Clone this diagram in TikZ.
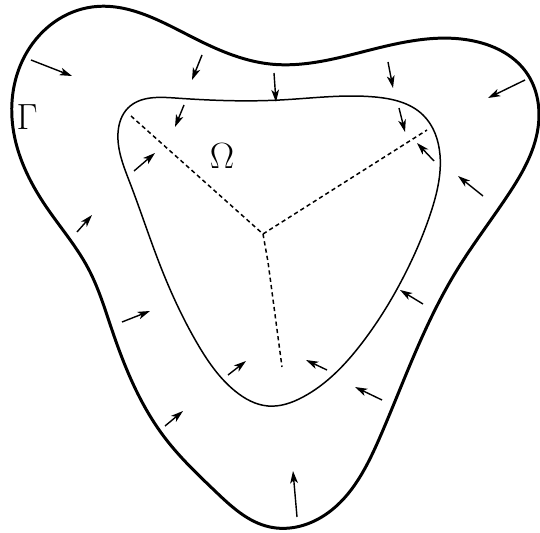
\documentclass[tikz,border=0pt]{standalone}
\usepackage{amsmath,amssymb}
\usepackage{tikz}
\usetikzlibrary{arrows.meta,hobby}

\begin{document}
\begin{tikzpicture}[x=0.02cm, y=-0.02cm,
    outerline/.style={line width=1.7pt, line join=round},
    innerline/.style={line width=0.85pt},
    cutline/.style={line width=0.85pt, dash pattern=on 2.4pt off 1.8pt},
    flow/.style={line width=0.8pt, -{Stealth[length=7pt, width=4.4pt, inset=1.9pt]}},
    every node/.style={font=\fontsize{20}{22}\selectfont}]
        \useasboundingbox (0,0) rectangle (540,533);

        % Gamma: outer boundary
        \draw[outerline, use Hobby shortcut, closed=true]
          (92,7) .. (190,36) .. (270,64) .. (370,50) .. (478,42)
          .. (526,72) .. (538,128) .. (508,195) .. (457,270)
          .. (423,335) .. (380,437) .. (320,518) .. (270,527)
          .. (215,491) .. (165,438) .. (112,330) .. (88,268)
          .. (45,205) .. (13,128) .. (27,52);

        % Omega: inner region
        \draw[innerline, use Hobby shortcut, closed=true]
          (128,108) .. (175,98) .. (280,100) .. (375,97) .. (423,115)
          .. (440,155) .. (431,212) .. (407,270) .. (362,343)
          .. (303,397) .. (268,406) .. (235,391) .. (197,343)
          .. (160,265) .. (130,183) .. (118,133);

        % skeleton of Omega
        \coordinate (joint) at (263,234);
        \draw[cutline] (131,116) -- (joint) -- (427,130);
        \draw[cutline] (joint) -- (268,262) -- (282,367);

        % inward arrows
        \foreach \xa/\ya/\xb/\yb in {
            31/60/72/76, 202/55/192/80, 184/105/175/127, 134/171/155/153,
            77/232/92/215, 274/73/276/102, 388/62/393/88, 399/108/405/132,
            434/161/417/143, 525/80/488/98, 483/196/458/176,
            122/322/150/311, 228/375/246/361, 165/426/183/411,
            423/304/400/290, 327/370/306/360, 382/400/355/387,
            297/517/293/471}
          \draw[flow] (\xa,\ya) -- (\xb,\yb);

        \node (gamma) at (27,117) {$\Gamma$};
        \node (omega) at (222,156) {$\Omega$};
\end{tikzpicture}
\end{document}
